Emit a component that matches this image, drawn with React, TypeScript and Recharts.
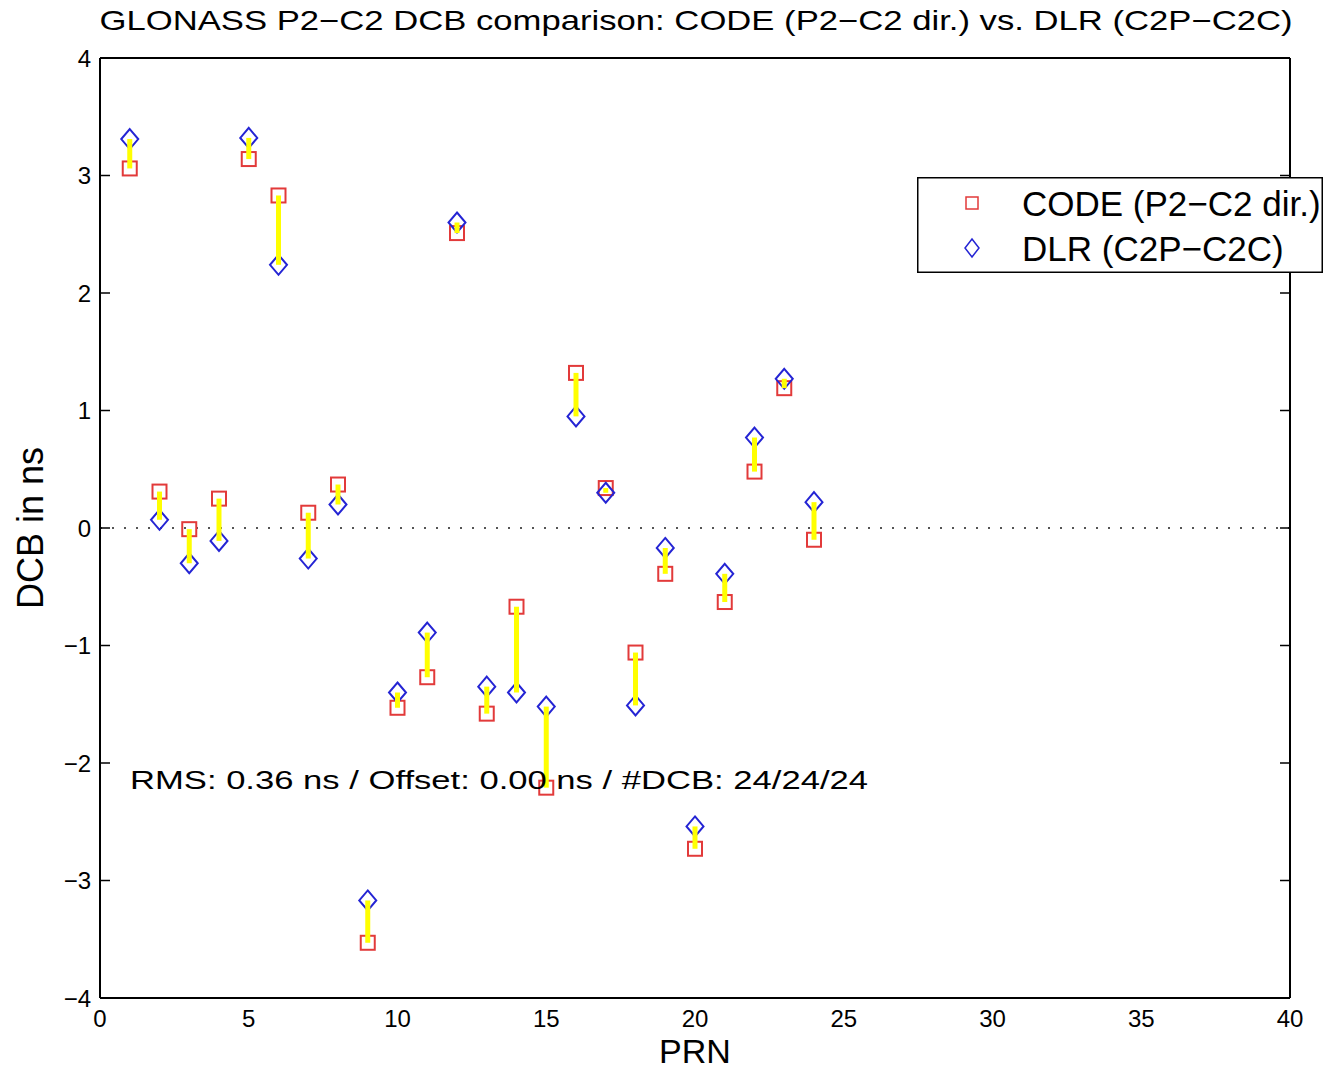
import { ScatterChart, Scatter, XAxis, YAxis, ReferenceLine, Legend } from "recharts";

// GLONASS satellites (PRN) and their P2-C2 DCB in ns
const prn = [1, 2, 3, 4, 5, 6, 7, 8, 9, 10, 11, 12, 13, 14, 15, 16, 17, 18, 19, 20, 21, 22, 23, 24];
const codeDcb = [3.06, 0.31, -0.01, 0.25, 3.14, 2.83, 0.13, 0.37, -3.53, -1.53, -1.27, 2.51, -1.58, -0.67, -2.21, 1.32, 0.34, -1.06, -0.39, -2.73, -0.63, 0.48, 1.19, -0.10];
const dlrDcb = [3.31, 0.07, -0.30, -0.11, 3.32, 2.24, -0.26, 0.20, -3.17, -1.40, -0.89, 2.60, -1.35, -1.40, -1.52, 0.95, 0.30, -1.51, -0.17, -2.54, -0.39, 0.77, 1.27, 0.22];

const prnTicks = [0, 5, 10, 15, 20, 25, 30, 35, 40];
const dcbTicks = [-4, -3, -2, -1, 0, 1, 2, 3, 4];

const seriesNames = ["CODE (P2\u2212C2 dir.)", "DLR (C2P\u2212C2C)"];
const titleText = "GLONASS P2\u2212C2 DCB comparison: CODE (P2\u2212C2 dir.) vs. DLR (C2P\u2212C2C)";
const statsText = "RMS: 0.36 ns / Offset: 0.00 ns / #DCB: 24/24/24";

const RED = "#e23a3a";
const BLUE = "#2424d4";
const YELLOW = "#ffff00";
const FONT = '"Liberation Sans", Arial, Helvetica, sans-serif';

const codeData = prn.map((p, i) => ({ prn: p, dcb: codeDcb[i] }));
const dlrData = prn.map((p, i) => ({ prn: p, dcb: dlrDcb[i] }));
const pairs = prn.map((p, i) => [
  { prn: p, dcb: codeDcb[i] },
  { prn: p, dcb: dlrDcb[i] },
]);

const minus = (v: number) => (v < 0 ? `\u2212${Math.abs(v)}` : `${v}`);

const Square = (props: any) => {
  const { cx, cy } = props;
  return <rect x={cx - 7} y={cy - 7} width={14} height={14} fill="none" stroke={RED} strokeWidth={2} />;
};

const Diamond = (props: any) => {
  const { cx, cy } = props;
  return (
    <path
      d={`M${cx},${cy - 10} L${cx + 8.5},${cy} L${cx},${cy + 10} L${cx - 8.5},${cy} Z`}
      fill="none"
      stroke={BLUE}
      strokeWidth={2}
    />
  );
};

const NoDot = () => <g />;
const NoLabel = () => <g />;

const LegendBox = () => (
  <svg width={406} height={96} style={{ display: "block" }}>
    <rect x={0.75} y={0.75} width={404.5} height={94.5} fill="#fff" stroke="#000" strokeWidth={1.5} />
    <rect x={49} y={20} width={12} height={12} fill="none" stroke={RED} strokeWidth={1.5} />
    <path d="M55,62 L62,71 L55,80 L48,71 Z" fill="none" stroke={BLUE} strokeWidth={1.5} />
    <text x={105} y={39} fontSize={35} fontFamily={FONT} fill="#000">{seriesNames[0]}</text>
    <text x={105} y={84} fontSize={35} fontFamily={FONT} fill="#000">{seriesNames[1]}</text>
  </svg>
);

const frameTickLine = { stroke: "#000", strokeWidth: 1.5 };

export default function App() {
  return (
    <div style={{ position: "absolute", left: 0, top: 0, width: 1344, height: 1070, background: "#fff" }}>
      <ScatterChart width={1344} height={1070} margin={{ top: 58, right: 54, bottom: 0, left: 0 }}>
        {/* inward tick marks on all four sides */}
        <XAxis xAxisId="xb" orientation="bottom" type="number" domain={[0, 40]} ticks={prnTicks} height={1}
          mirror axisLine={false} tick={NoLabel} tickSize={10} tickLine={frameTickLine} allowDataOverflow />
        <XAxis xAxisId="xt" orientation="top" type="number" domain={[0, 40]} ticks={prnTicks} height={1}
          mirror axisLine={{ stroke: "#000", strokeWidth: 2 }} tick={NoLabel} tickSize={10} tickLine={frameTickLine} allowDataOverflow />
        <YAxis yAxisId="yl" orientation="left" type="number" domain={[-4, 4]} ticks={dcbTicks} width={1}
          mirror axisLine={false} tick={NoLabel} tickSize={10} tickLine={frameTickLine} allowDataOverflow />
        <YAxis yAxisId="yr" orientation="right" type="number" domain={[-4, 4]} ticks={dcbTicks} width={1}
          mirror axisLine={{ stroke: "#000", strokeWidth: 2 }} tick={NoLabel} tickSize={10} tickLine={frameTickLine} allowDataOverflow />

        <XAxis
          xAxisId="x"
          dataKey="prn"
          type="number"
          domain={[0, 40]}
          ticks={prnTicks}
          height={72}
          tickLine={false}
          tickSize={0}
          tickMargin={12}
          axisLine={{ stroke: "#000", strokeWidth: 2 }}
          tick={{ fontSize: 24, fill: "#000", fontFamily: FONT }}
          label={{ value: "PRN", position: "insideBottom", offset: 7, fontSize: 34, fill: "#000", fontFamily: FONT }}
          allowDataOverflow
        />
        <YAxis
          yAxisId="y"
          dataKey="dcb"
          type="number"
          domain={[-4, 4]}
          ticks={dcbTicks}
          width={100}
          tickLine={false}
          tickSize={0}
          tickMargin={9}
          tickFormatter={minus}
          axisLine={{ stroke: "#000", strokeWidth: 2 }}
          tick={{ fontSize: 24, fill: "#000", fontFamily: FONT }}
          label={{ value: "DCB in ns", angle: -90, position: "center", dx: -20, fontSize: 36, fill: "#000", fontFamily: FONT }}
          allowDataOverflow
        />

        <ReferenceLine xAxisId="x" yAxisId="y" y={0} stroke="#555" strokeWidth={2} strokeDasharray="2 10" />

        <Scatter xAxisId="x" yAxisId="y" name={seriesNames[0]} data={codeData} shape={Square} isAnimationActive={false} />
        <Scatter xAxisId="x" yAxisId="y" name={seriesNames[1]} data={dlrData} shape={Diamond} isAnimationActive={false} />
        {pairs.map((pair, i) => (
          <Scatter
            key={`pair-${i}`}
            xAxisId="x"
            yAxisId="y"
            data={pair}
            shape={NoDot}
            line={{ stroke: YELLOW, strokeWidth: 5 }}
            legendType="none"
            isAnimationActive={false}
          />
        ))}

        <Legend
          layout="horizontal"
          align="center"
          verticalAlign="middle"
          content={() => <LegendBox />}
          wrapperStyle={{ left: 917, top: 177, width: 406, height: 96 }}
        />
      </ScatterChart>

      <svg width={1344} height={1070} style={{ position: "absolute", left: 0, top: 0, pointerEvents: "none" }}>
        <text x={696} y={30} textAnchor="middle" fontSize={28} fontFamily={FONT} fill="#000"
          textLength={1193} lengthAdjust="spacingAndGlyphs">{titleText}</text>
        <text x={130} y={789} fontSize={25} fontFamily={FONT} fill="#000"
          textLength={738} lengthAdjust="spacingAndGlyphs">{statsText}</text>
      </svg>
    </div>
  );
}
